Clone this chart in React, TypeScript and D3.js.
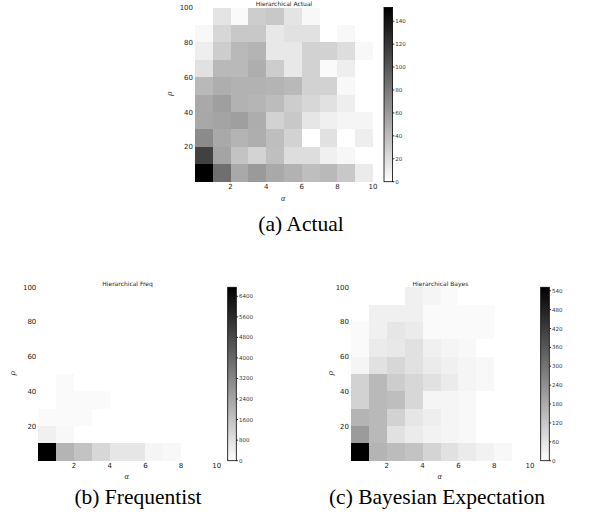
import * as d3 from 'd3';

// alpha runs 0..10 in unit bins, rho runs 0..100 in bins of 10
const alphaTicks = [2, 4, 6, 8, 10];
const rhoTicks = [20, 40, 60, 80, 100];

// rows go from rho 90-100 (top) down to rho 0-10 (bottom); columns alpha 0-1 .. 9-10
const actualValues = [
  [0, 16, 3, 30, 33, 16, 4, 0, 0, 0],
  [4, 24, 33, 33, 14, 18, 18, 0, 4, 0],
  [10, 30, 42, 45, 14, 14, 27, 27, 20, 4],
  [18, 42, 42, 48, 30, 14, 27, 3, 10, 0],
  [42, 48, 46, 46, 45, 42, 27, 27, 4, 0],
  [51, 57, 46, 44, 40, 30, 24, 18, 10, 0],
  [52, 54, 57, 49, 27, 33, 15, 9, 6, 6],
  [69, 51, 45, 48, 39, 27, 0, 18, 0, 10],
  [113, 54, 36, 26, 38, 20, 20, 9, 5, 0],
  [152, 86, 51, 60, 51, 46, 39, 42, 33, 12],
];
const actualMax = 152;
const actualTicks = [0, 20, 40, 60, 80, 100, 120, 140];

const freqValues = [
  [0, 0, 0, 0, 0, 0, 0, 0, 0, 0],
  [0, 0, 0, 0, 0, 0, 0, 0, 0, 0],
  [0, 0, 0, 0, 0, 0, 0, 0, 0, 0],
  [0, 0, 0, 0, 0, 0, 0, 0, 0, 0],
  [0, 0, 0, 0, 0, 0, 0, 0, 0, 0],
  [0, 130, 0, 0, 0, 0, 0, 0, 0, 0],
  [0, 130, 130, 130, 0, 0, 0, 0, 0, 0],
  [130, 130, 130, 0, 0, 0, 0, 0, 0, 0],
  [397, 185, 0, 0, 0, 0, 0, 0, 0, 0],
  [6750, 1985, 1588, 1059, 662, 662, 265, 185, 0, 0],
];
const freqMax = 6750;
const freqTicks = [0, 800, 1600, 2400, 3200, 4000, 4800, 5600, 6400];

const bayesValues = [
  [0, 0, 0, 32, 22, 11, 0, 0, 0, 0],
  [0, 32, 32, 32, 11, 11, 11, 11, 0, 0],
  [11, 32, 54, 43, 11, 11, 11, 11, 0, 0],
  [11, 43, 50, 65, 32, 22, 15, 0, 0, 0],
  [22, 65, 86, 65, 43, 32, 22, 15, 0, 0],
  [97, 151, 108, 86, 65, 43, 22, 15, 0, 0],
  [97, 151, 140, 86, 22, 22, 15, 0, 0, 0],
  [162, 151, 97, 54, 37, 22, 15, 0, 0, 0],
  [216, 151, 65, 43, 28, 22, 15, 0, 0, 0],
  [551, 162, 145, 130, 93, 65, 43, 28, 15, 0],
];
const bayesMax = 551;
const bayesTicks = [0, 60, 120, 180, 240, 300, 360, 420, 480, 540];

const tickFont = 'DejaVu Sans, sans-serif';
const mathFont = 'Liberation Serif, serif';

function Panel(props) {
  const { id, values, vmax, cbTicks, title, caption, left, right, top, bottom,
    cbX, rhoX, alphaY, captionX, captionY } = props;

  const x = d3.scaleLinear().domain([0, 10]).range([left, right]);
  const y = d3.scaleLinear().domain([0, 100]).range([bottom, top]);
  const color = d3.scaleLinear<string>().domain([0, vmax]).range(['#ffffff', '#000000']).clamp(true);
  const cb = d3.scaleLinear().domain([0, vmax]).range([bottom, top]);
  const cbW = 8.6;
  const nRows = values.length;

  return (
    <g>
      <defs>
        <linearGradient id={`grad-${id}`} x1="0" y1="1" x2="0" y2="0">
          <stop offset="0" stopColor="#ffffff" />
          <stop offset="1" stopColor="#000000" />
        </linearGradient>
      </defs>
      {values.flatMap((row, r) =>
        row.map((v, c) => {
          const rhoHi = (nRows - r) * 10;
          return (
            <rect key={`${r}-${c}`} x={x(c)} y={y(rhoHi)}
              width={x(c + 1) - x(c)} height={y(rhoHi - 10) - y(rhoHi)}
              fill={color(v)} shapeRendering="crispEdges" />
          );
        })
      )}
      <text x={(left + right) / 2} y={top - 1.5} textAnchor="middle"
        fontFamily={tickFont} fontSize={6} fill="#222">{title}</text>
      {alphaTicks.map(t => (
        <text key={`xt${t}`} x={x(t)} y={bottom + 7.5} textAnchor="middle"
          fontFamily={tickFont} fontSize={7} fill="#222">{t}</text>
      ))}
      {rhoTicks.map(t => (
        <text key={`yt${t}`} x={left - 2} y={y(t) + 2.5} textAnchor="end"
          fontFamily={tickFont} fontSize={7} fill="#222">{t}</text>
      ))}
      <text transform={`translate(${rhoX},${(top + bottom) / 2 - 1}) rotate(-90)`}
        textAnchor="middle" fontFamily={mathFont} fontStyle="italic" fontSize={9} fill="#222">ρ</text>
      <text x={(left + right) / 2 - 1} y={alphaY} textAnchor="middle"
        fontFamily={mathFont} fontStyle="italic" fontSize={8} fill="#222">α</text>

      <rect x={cbX} y={top} width={cbW} height={bottom - top}
        fill={`url(#grad-${id})`} stroke="#000" strokeWidth={0.8} />
      {cbTicks.map(t => (
        <g key={`cb${t}`}>
          <line x1={cbX + cbW} x2={cbX + cbW + 1.8} y1={cb(t)} y2={cb(t)} stroke="#000" strokeWidth={0.8} />
          <text x={cbX + cbW + 2.6} y={cb(t) + 2} fontFamily={tickFont} fontSize={5.5} fill="#333">{t}</text>
        </g>
      ))}

      <text x={captionX} y={captionY} textAnchor="middle" fontFamily={mathFont}
        fontSize={21.5} fill="#000">{caption}</text>
    </g>
  );
}

export default function App() {
  return (
    <svg width={603} height={517} style={{ position: 'absolute', left: 0, top: 0, background: '#fff' }}>
      <Panel id="a" values={actualValues} vmax={actualMax} cbTicks={actualTicks}
        title="Hierarchical Actual" caption="(a) Actual"
        left={195} right={373} top={7.5} bottom={181.7} cbX={384}
        rhoX={172} alphaY={201} captionX={301} captionY={231} />
      <Panel id="b" values={freqValues} vmax={freqMax} cbTicks={freqTicks}
        title="Hierarchical Freq" caption="(b) Frequentist"
        left={38.3} right={216.8} top={287.3} bottom={460.7} cbX={227.7}
        rhoX={15} alphaY={479} captionX={138} captionY={504} />
      <Panel id="c" values={bayesValues} vmax={bayesMax} cbTicks={bayesTicks}
        title="Hierarchical Bayes" caption="(c) Bayesian Expectation"
        left={351} right={530} top={287.3} bottom={460.7} cbX={540.7}
        rhoX={333} alphaY={479} captionX={437} captionY={504} />
    </svg>
  );
}
